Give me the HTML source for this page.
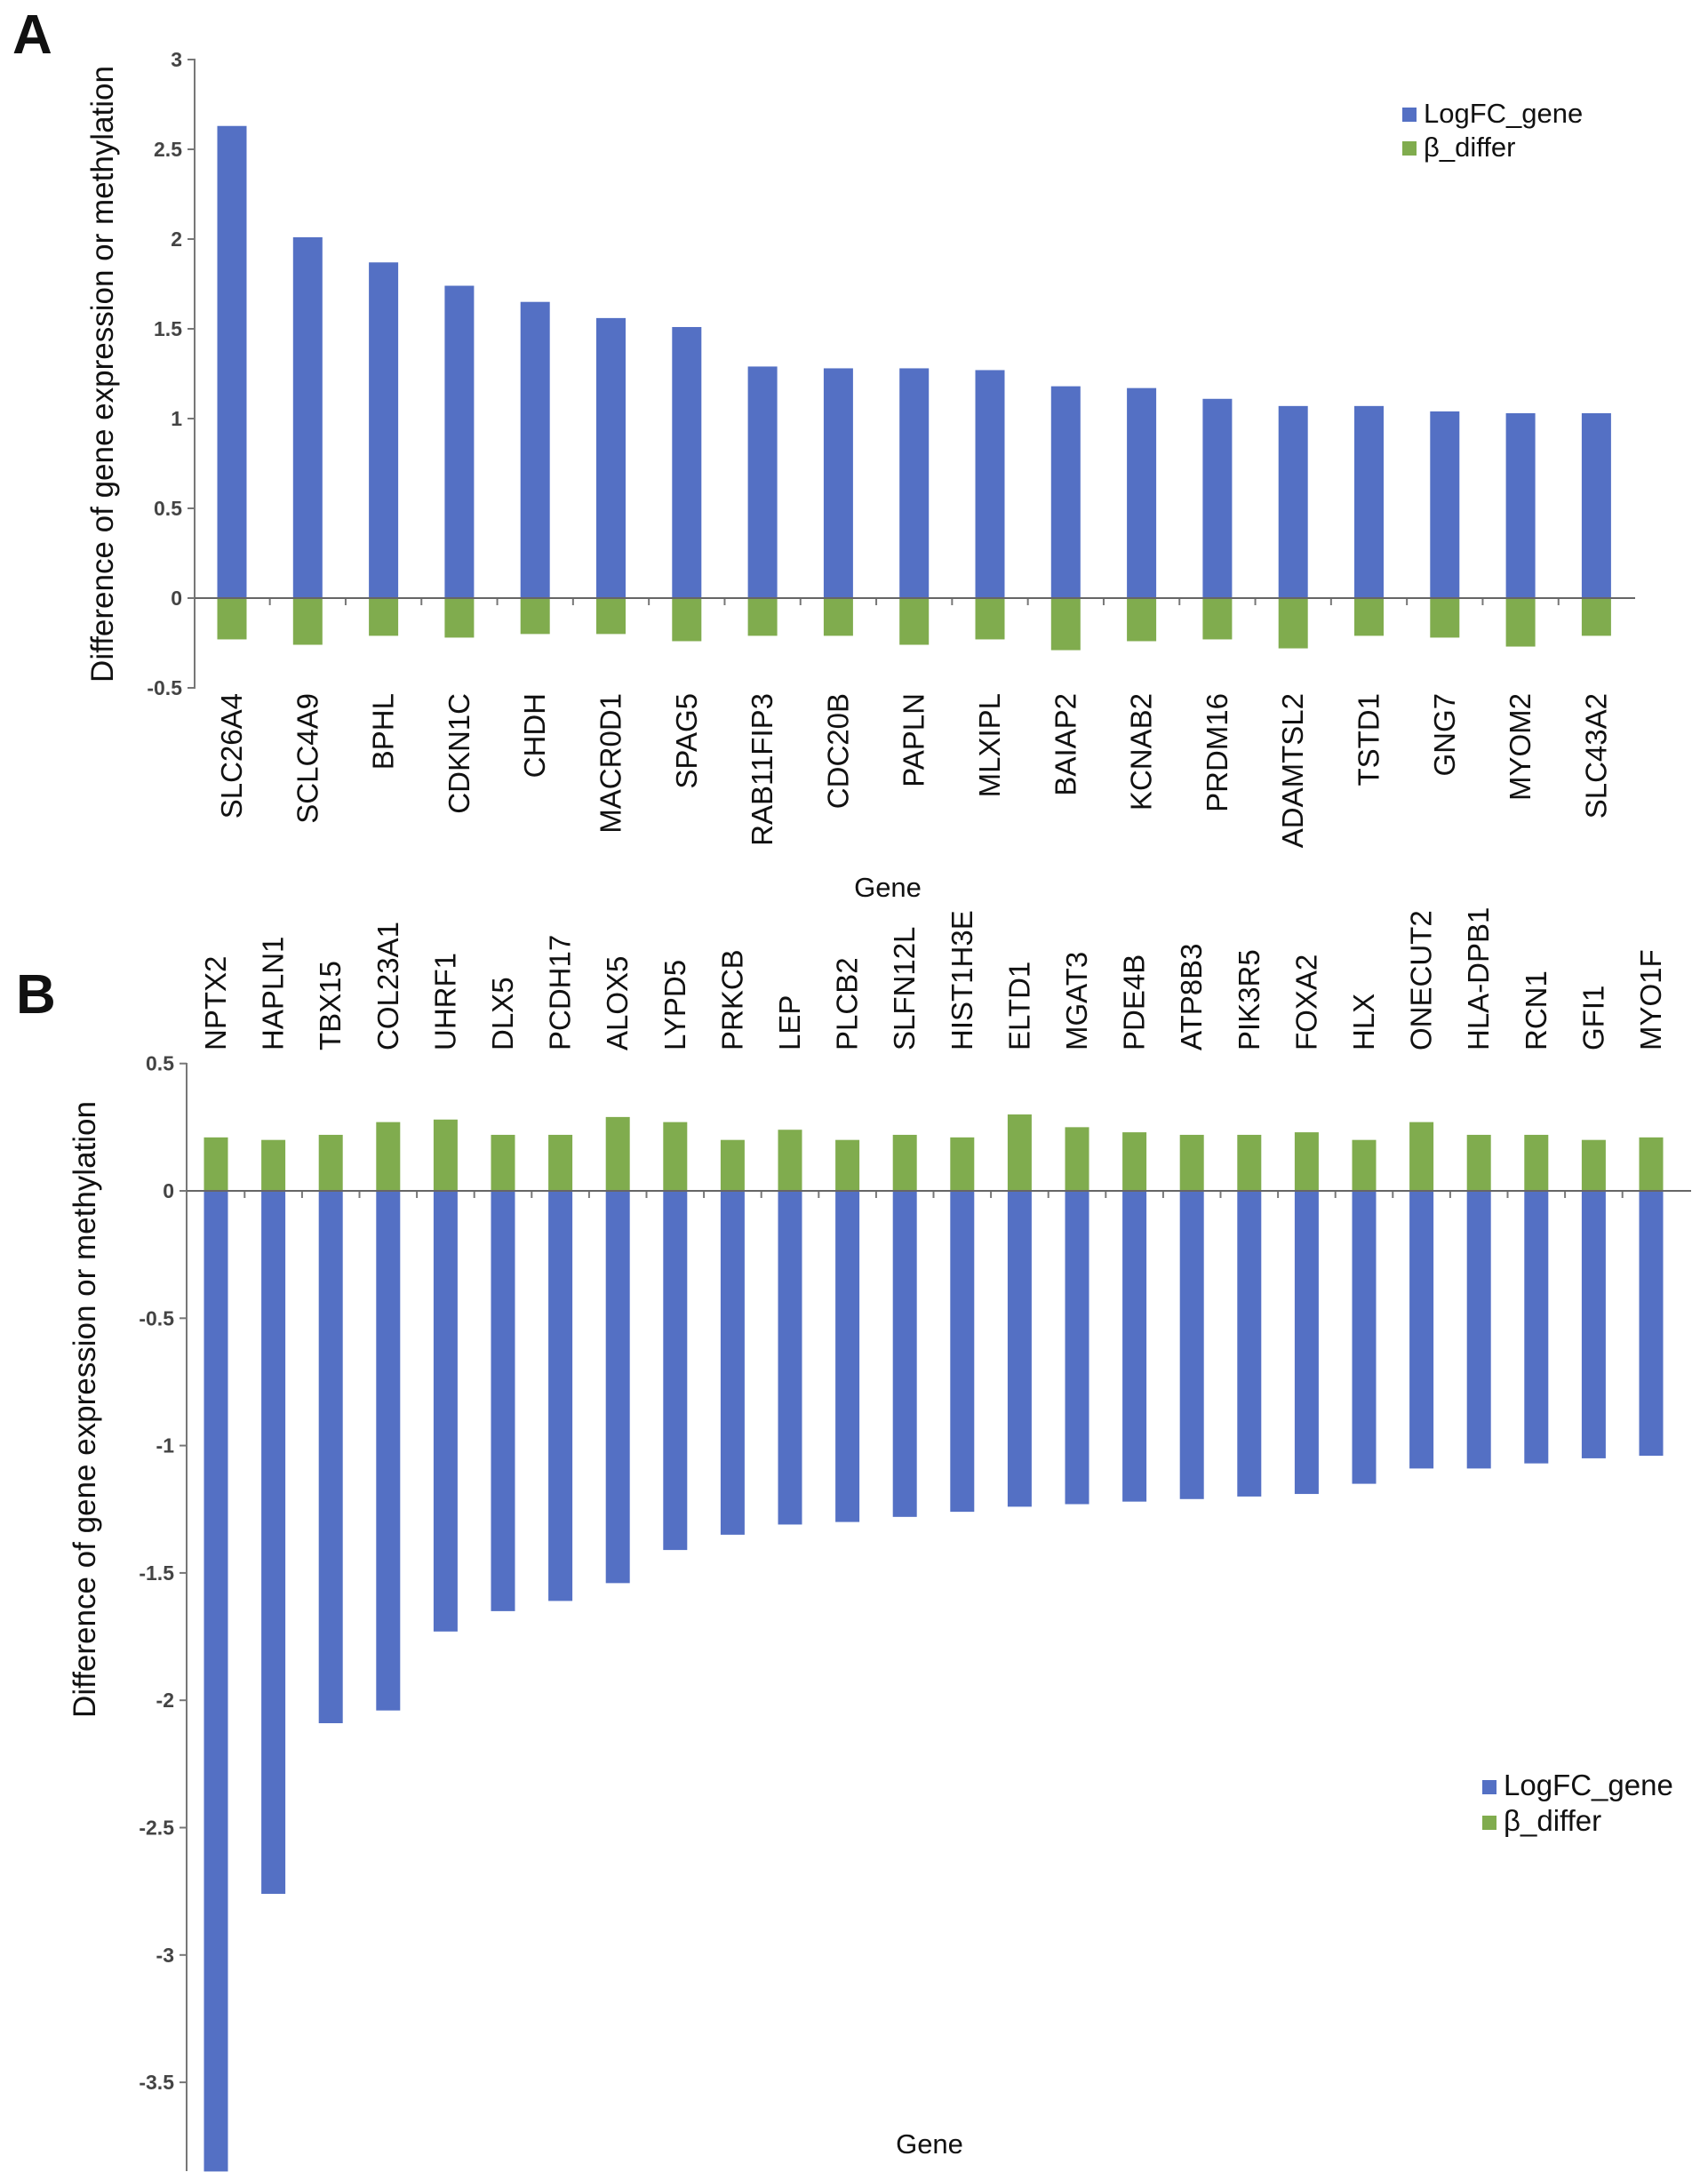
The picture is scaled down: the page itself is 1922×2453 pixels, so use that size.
<!DOCTYPE html>
<html><head><meta charset="utf-8"><style>
html,body{margin:0;padding:0;background:#fff;}
svg{display:block;font-family:"Liberation Sans",Arial,sans-serif;}
</style></head><body>
<svg id="chart" width="1922" height="2453" viewBox="0 0 1922 2453"></svg>
<script>
const genesA=["SLC26A4","SCLC4A9","BPHL","CDKN1C","CHDH","MACR0D1","SPAG5","RAB11FIP3","CDC20B","PAPLN","MLXIPL","BAIAP2","KCNAB2","PRDM16","ADAMTSL2","TSTD1","GNG7","MYOM2","SLC43A2"];
const logfcA=[2.63,2.01,1.87,1.74,1.65,1.56,1.51,1.29,1.28,1.28,1.27,1.18,1.17,1.11,1.07,1.07,1.04,1.03,1.03];
const betaA=[-0.23,-0.26,-0.21,-0.22,-0.20,-0.20,-0.24,-0.21,-0.21,-0.26,-0.23,-0.29,-0.24,-0.23,-0.28,-0.21,-0.22,-0.27,-0.21];
const ticksA=[3,2.5,2,1.5,1,0.5,0,-0.5];
const genesB=["NPTX2","HAPLN1","TBX15","COL23A1","UHRF1","DLX5","PCDH17","ALOX5","LYPD5","PRKCB","LEP","PLCB2","SLFN12L","HIST1H3E","ELTD1","MGAT3","PDE4B","ATP8B3","PIK3R5","FOXA2","HLX","ONECUT2","HLA-DPB1","RCN1","GFI1","MYO1F"];
const logfcB=[-3.85,-2.76,-2.09,-2.04,-1.73,-1.65,-1.61,-1.54,-1.41,-1.35,-1.31,-1.30,-1.28,-1.26,-1.24,-1.23,-1.22,-1.21,-1.20,-1.19,-1.15,-1.09,-1.09,-1.07,-1.05,-1.04];
const betaB=[0.21,0.20,0.22,0.27,0.28,0.22,0.22,0.29,0.27,0.20,0.24,0.20,0.22,0.21,0.30,0.25,0.23,0.22,0.22,0.23,0.20,0.27,0.22,0.22,0.20,0.21];
const ticksB=[0.5,0,-0.5,-1,-1.5,-2,-2.5,-3,-3.5];

const NS="http://www.w3.org/2000/svg";
const svg=document.getElementById('chart');
function mk(tag,attrs,parent,text){const e=document.createElementNS(NS,tag);for(const k in attrs)e.setAttribute(k,attrs[k]);if(text!==undefined)e.textContent=text;(parent||svg).appendChild(e);return e;}
const BLUE="#5470c4",GREEN="#80ac4e";

function panel(o){
  const g=mk('g',{});
  
  
  const y=v=>o.y0-(v)*o.unit;
  const x=i=>o.x0+i*o.step;
  const ax=mk('line',{x1:o.axX,x2:o.axX,y1:o.axTop,y2:o.axBot,stroke:'#777','stroke-width':2},g);
  
  o.ticks.forEach(t=>{
    mk('line',{x1:o.axX-8,x2:o.axX,y1:y(t),y2:y(t),stroke:'#777','stroke-width':2},g);
    const tl=mk('text',{x:o.axX-14,y:y(t)+8,'text-anchor':'end','font-size':23,'font-weight':'bold',fill:'#444'},g,String(t));
    
  });
  o.genes.forEach((gn,i)=>{
    const cx=x(i);
    [[o.logfc[i],BLUE,'logfc-bar'],[o.beta[i],GREEN,'beta-bar']].forEach(([v,c,n])=>{
      const top=Math.min(y(v),y(0)),h=Math.abs(y(v)-y(0));
      const r=mk('rect',{x:cx-o.bw/2,y:top,width:o.bw,height:h,fill:c},g);
      
      
    });
    const tx=cx+11;
    const lbl=mk('text',{x:0,y:0,transform:`translate(${tx},${o.labY}) rotate(-90)`,'text-anchor':o.labAnchor,'font-size':o.labSize,fill:'#111'},g,gn);
    
    
    if(i<o.genes.length-1) mk('line',{x1:cx+o.step/2,x2:cx+o.step/2,y1:o.y0,y2:o.y0+8,stroke:'#777','stroke-width':2},g);
  });
  const xa=mk('line',{x1:o.axX,x2:o.axRight,y1:o.y0,y2:o.y0,stroke:'#666','stroke-width':2},g);
  
  const yt=mk('text',{x:0,y:0,transform:`translate(${o.ytX},${o.ytY}) rotate(-90)`,'text-anchor':'middle','font-size':o.ytSize,fill:'#111'},g,'Difference of gene expression or methylation');
  
  const xt=mk('text',{x:o.xtX,y:o.xtY,'text-anchor':'middle','font-size':31,fill:'#111'},g,'Gene');
  
  [['LogFC_gene',BLUE],['β_differ',GREEN]].forEach(([t,c],k)=>{
    const ly=o.legY+k*o.legGap;
    const sq=mk('rect',{x:o.legX,y:ly-17,width:16,height:16,fill:c},g);
    
    const lt=mk('text',{x:o.legX+24,y:ly,'font-size':o.legSize,fill:'#111'},g,t);
    
  });
  const pl=mk('text',{x:o.plX,y:o.plY,'font-size':62,'font-weight':'bold',fill:'#111'},g,o.letter);
  
}

panel({name:'panel-a',letter:'A',plX:14,plY:60,genes:genesA,logfc:logfcA,beta:betaA,ticks:ticksA,
  y0:673,unit:202,x0:261,step:85.3,bw:33,axX:219,axTop:66,axBot:775,axRight:1840,
  labY:780,labAnchor:'end',labSize:33,ytX:127,ytY:421,ytSize:35,xtX:999,xtY:1009,
  legX:1578,legY:138,legGap:38,legSize:31});
panel({name:'panel-b',letter:'B',plX:18,plY:1140,genes:genesB,logfc:logfcB,beta:betaB,ticks:ticksB,
  y0:1340,unit:286.6,x0:243,step:64.6,bw:27,axX:210,axTop:1196,axBot:2443,axRight:1903,
  labY:1182,labAnchor:'start',labSize:33,ytX:107,ytY:1586,ytSize:35,xtX:1046,xtY:2423,
  legX:1668,legY:2020,legGap:40,legSize:33});
</script>
</body></html>
